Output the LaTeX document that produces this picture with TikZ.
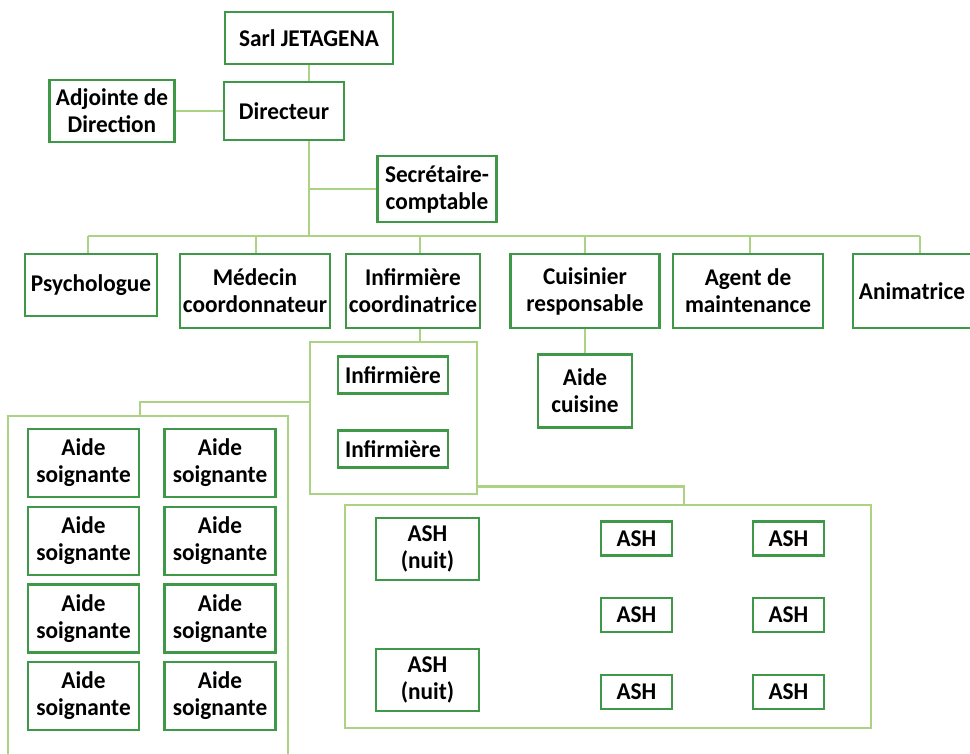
\documentclass[tikz,border=0pt]{standalone}
\usepackage{fontspec}
\setmainfont{Carlito}[FakeStretch=0.97]
\usepackage{xcolor}
\usetikzlibrary{positioning}
\definecolor{boxgreen}{RGB}{62,152,72}
\definecolor{linegreen}{RGB}{172,210,132}

\begin{document}
\begin{tikzpicture}[
    x=1pt, y=-1pt,
    box/.style={rectangle, draw=boxgreen, line width=2.2pt, fill=white, align=center, inner sep=0pt,
        font=\bfseries\fontsize{24}{27}\selectfont},
    group/.style={rectangle, draw=linegreen, line width=2.8pt, inner sep=0pt},
    link/.style={draw=linegreen, line width=2.8pt}
]
    \useasboundingbox (0,0) rectangle (970,753);

    % group frames
    \node[group, minimum width=167pt, minimum height=152pt] (grpinf) at (393.5,418) {};
    \node[group, minimum width=280pt, minimum height=380pt] (grpas) at (148,606) {};
    \node[group, minimum width=526pt, minimum height=223pt] (grpash) at (608,616.5) {};

    % top
    \node[box, minimum width=168pt, minimum height=52pt] (sarl) at (309,38) {Sarl JETAGENA};
    \node[box, minimum width=120pt, minimum height=58pt] (dir) at (284,111) {Directeur};
    \node[box, minimum width=125pt, minimum height=62pt] (adj) at (112,111) {Adjointe de\\Direction};
    \node[box, minimum width=119pt, minimum height=66pt] (sec) at (437,189) {Secrétaire-\\comptable};
    \coordinate (bus) at (309,236);

    % services
    \node[box, minimum width=132pt, minimum height=62pt] (psy) at (91,285) {Psychologue};
    \node[box, minimum width=150pt, minimum height=74pt] (med) at (255,291) {Médecin\\coordonnateur};
    \node[box, minimum width=134pt, minimum height=74pt] (infc) at (413,291) {Infirmière\\coordinatrice};
    \node[box, minimum width=149pt, minimum height=74pt] (cuis) at (585,291) {Cuisinier\\responsable};
    \node[box, minimum width=150pt, minimum height=74pt] (agent) at (748,291) {Agent de\\maintenance};
    \node[box, minimum width=118pt, minimum height=74pt] (anim) at (912,291) {Animatrice};
    \node[box, minimum width=94pt, minimum height=73pt] (aidec) at (585,391) {Aide\\cuisine};

    % infirmieres
    \node[box, minimum width=110pt, minimum height=37pt] (inf1) at (393,375) {Infirmière};
    \node[box, minimum width=110pt, minimum height=37pt] (inf2) at (393,449) {Infirmière};

    % aides soignantes
    \foreach \r in {0,...,3}
        \foreach \c in {0,1}
            \node[box, minimum width=111pt, minimum height=68pt] (as\r\c) at ({83.5+136.5*\c},{463+77.7*\r}) {Aide\\soignante};

    % ASH
    \node[box, minimum width=103pt, minimum height=62pt] (ashn1) at (427.5,549) {ASH\\(nuit)};
    \node[box, minimum width=103pt, minimum height=62pt] (ashn2) at (427.5,680) {ASH\\(nuit)};
    \foreach \r/\y in {1/538.5,2/615,3/692} {
        \node[box, minimum width=71pt, minimum height=34pt] (asha\r) at (636.5,\y) {ASH};
        \node[box, minimum width=71pt, minimum height=34pt] (ashb\r) at (788.5,\y) {ASH};
    }

    % connectors
    \draw[link] (sarl.south) -- (sarl.south |- dir.north);
    \draw[link] (adj.east) -- (dir.west);
    \draw[link] (sarl.south |- dir.south) -- (bus);
    \draw[link] (sec.west) -- (sec.west -| bus);
    \draw[link] ([xshift=-3pt]psy.north |- bus) -- ([xshift=8pt]anim.north |- bus);
    \foreach \n/\dx in {psy/-3,med/1,infc/7,cuis/0,agent/2,anim/8}
        \draw[link] ([xshift=\dx pt]\n.north) -- ([xshift=\dx pt]\n.north |- bus);
    \draw[link] (cuis.south) -- (aidec.north);
    \draw[link] ([xshift=7pt]infc.south) -- ([xshift=7pt]infc.south |- grpinf.north);
    \draw[link] ([yshift=16pt]grpinf.west) -| ([xshift=-8pt]grpas.north);
    \draw[link] ([yshift=9pt]grpinf.south east) -| ([xshift=76pt]grpash.north);
\end{tikzpicture}
\end{document}
